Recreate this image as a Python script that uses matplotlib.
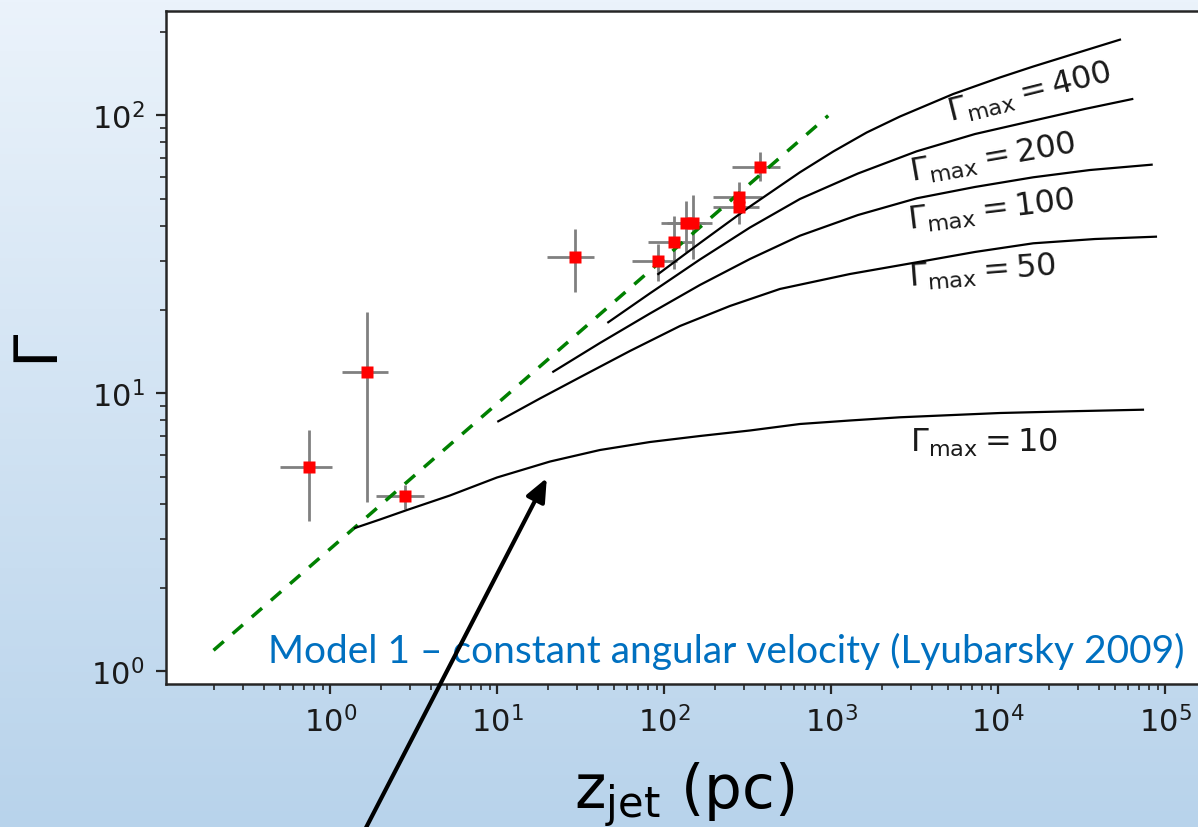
import numpy as np
import matplotlib
matplotlib.use('Agg')
import matplotlib.pyplot as plt
from matplotlib.colors import LinearSegmentedColormap

# points mesures (z en pc, facteur de Lorentz)
z_obs = [0.745, 1.665, 2.8, 29.2, 92, 114, 135, 148, 280, 280, 374]
g_obs = [5.42, 11.96, 4.28, 30.8, 30.0, 34.9, 40.9, 40.9, 50.7, 46.7, 65.0]
z_lo = [0.245, 0.485, 0.92, 9.4, 27.7, 34, 39, 44, 84, 84, 121]
z_hi = [0.275, 0.545, 0.84, 8.9, 28, 34, 40, 44, 103, 90, 119]
g_lo = [1.94, 7.89, 0.44, 7.7, 4.6, 6.9, 8.7, 10.5, 6.5, 6.1, 6.8]
g_hi = [1.98, 7.64, 0.4, 8.2, 4.4, 8.4, 8.4, 10.9, 6.7, 6.0, 9.0]

# droite en tirets verts
z_green = [0.2, 959]
g_green = [1.19, 99.7]

# courbes du modele pour chaque Gamma_max
z_10 = [1.406, 1.985, 2.880, 5.21, 9.96, 20.7, 41.2, 82.1, 163.6, 326.1,
        649.4, 1294, 2579, 10240, 26880, 73550]
g_10 = [3.278, 3.516, 3.803, 4.290, 4.979, 5.683, 6.252, 6.680, 7.021, 7.349,
        7.755, 7.983, 8.198, 8.494, 8.616, 8.730]
z_50 = [10.14, 18.02, 31.28, 62.33, 124.2, 247.4, 492.9, 1294, 3247, 7254,
        16204, 37930, 87970]
g_50 = [7.93, 9.58, 11.42, 14.20, 17.46, 20.61, 23.73, 26.86, 29.59, 32.24,
        34.64, 35.89, 36.59]
z_100 = [21.64, 41.21, 82.13, 163.6, 326.1, 649.4, 1445, 3247, 7254, 16204,
         35410, 82900]
g_100 = [11.96, 15.17, 19.37, 24.53, 30.42, 36.89, 43.78, 50.28, 55.23, 59.84,
         63.56, 66.43]
z_200 = [46.2, 82.13, 163.6, 326.1, 649.4, 1445, 3247, 7254, 16204, 33050,
         63440]
g_200 = [18.01, 22.89, 30.29, 39.48, 50.0, 61.75, 74.21, 85.63, 95.63, 105.4,
         114.4]
z_400 = [92.07, 163.6, 326.1, 649.4, 1028, 1629, 2579, 5377, 10240, 16204,
         30850, 53560]
g_400 = [26.86, 34.72, 46.98, 62.37, 74.09, 86.71, 99.0, 119.3, 136.8, 149.8,
         168.9, 187.1]

x_ticks = [1e0, 1e1, 1e2, 1e3, 1e4, 1e5]
y_ticks = [1e0, 1e1, 1e2]

fig = plt.figure(figsize=(11.98, 8.28), dpi=100)

# fond degrade
bg = fig.add_axes([0, 0, 1, 1], zorder=-10)
grad = np.linspace(0, 1, 256).reshape(-1, 1)
cmap = LinearSegmentedColormap.from_list('fond', ['#ebf3fb', '#b8d3eb'])
bg.imshow(grad, aspect='auto', cmap=cmap, extent=[0, 1, 0, 1])
bg.axis('off')

ax = fig.add_axes([0.1382, 0.1727, 0.8665, 0.8134])
ax.set_facecolor('white')
ax.set_xscale('log')
ax.set_yscale('log')
ax.set_xticks(x_ticks)
ax.set_yticks(y_ticks)
ax.set_xlim(0.1032, 1.698e5)
ax.set_ylim(0.9001, 238.2)

for s in ax.spines.values():
    s.set_color('#262626')
    s.set_linewidth(1.8)
ax.tick_params(which='major', length=7.2, width=1.6, color='#262626',
               labelsize=22, pad=8, labelcolor='#1a1a1a')
ax.tick_params(which='minor', length=4.3, width=1.2, color='#262626')

ax.errorbar(z_obs, g_obs, xerr=[z_lo, z_hi], yerr=[g_lo, g_hi], fmt='none',
            ecolor='gray', elinewidth=2.0, capsize=0, zorder=2)
ax.plot(z_green, g_green, color='green', lw=2.5, dashes=(3.9, 3.4), zorder=3)
for zz, gg in [(z_10, g_10), (z_50, g_50), (z_100, g_100),
               (z_200, g_200), (z_400, g_400)]:
    ax.plot(zz, gg, color='black', lw=1.6, zorder=4)
ax.plot(z_obs, g_obs, 's', color='red', ms=8, mec='none', zorder=5)

ax.text(15490, 121.3, r'$\Gamma_{\rm max}=400$', fontsize=23, rotation=14,
        ha='center', va='center', rotation_mode='anchor', color='#1a1a1a')
ax.text(9270, 70.8, r'$\Gamma_{\rm max}=200$', fontsize=23, rotation=10,
        ha='center', va='center', rotation_mode='anchor', color='#1a1a1a')
ax.text(9160, 45.6, r'$\Gamma_{\rm max}=100$', fontsize=23, rotation=7,
        ha='center', va='center', rotation_mode='anchor', color='#1a1a1a')
ax.text(7980, 27.5, r'$\Gamma_{\rm max}=50$', fontsize=23, rotation=4.5,
        ha='center', va='center', rotation_mode='anchor', color='#1a1a1a')
ax.text(8200, 6.68, r'$\Gamma_{\rm max}=10$', fontsize=23,
        ha='center', va='center', color='#1a1a1a')

ax.text(268 / 1198, 1 - 663 / 828,
        'Model 1 \u2013 constant angular velocity (Lyubarsky 2009)',
        transform=fig.transFigure, fontsize=28, family='Lato',
        color='#0070c0', ha='left', va='baseline', zorder=6)

ax.annotate('', xy=(19.8, 4.96), xycoords='data',
            xytext=(355 / 1198, 1 - 850 / 828), textcoords='figure fraction',
            arrowprops=dict(arrowstyle='-|>,head_length=0.7,head_width=0.3',
                            color='black', lw=3, shrinkA=0, shrinkB=0,
                            mutation_scale=20),
            annotation_clip=False, zorder=7)

fig.text(684 / 1198, 1 - 808 / 828, r'z$_{\rm jet}$ (pc)', fontsize=43,
         ha='center', va='baseline')
fig.text(36 / 1198, 1 - 345 / 828, '\u0393', fontsize=43, rotation=90,
         ha='center', va='center')

fig.savefig('out.png', dpi=100)
